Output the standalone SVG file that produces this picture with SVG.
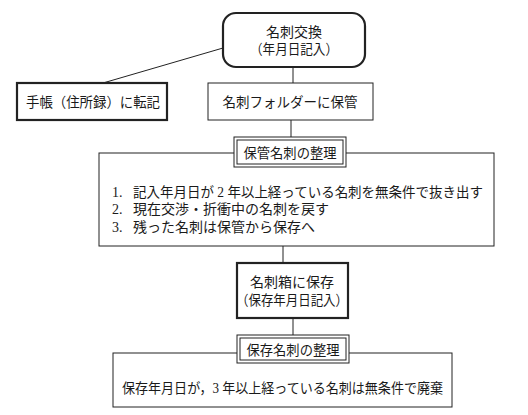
<svg xmlns="http://www.w3.org/2000/svg" width="528" height="415" viewBox="0 0 528 415">
<style>
text{font-family:"Liberation Serif","Noto Sans CJK JP","Noto Sans CJK SC",serif;font-size:14px;fill:#1a1a1a}
.c{text-anchor:middle}
.thin{fill:#fff;stroke:#222;stroke-width:1}
.thick{fill:#fff;stroke:#222;stroke-width:2.2}
.ln{stroke:#222;stroke-width:1;fill:none}
</style>
<rect width="528" height="415" fill="#fff"/>
<g id="connectors">
<line class="ln" x1="103" y1="83" x2="223" y2="48"/>
<line class="ln" x1="293" y1="67" x2="293" y2="84"/>
<line class="ln" x1="291" y1="120" x2="291" y2="138"/>
<line class="ln" x1="283" y1="246" x2="283" y2="263"/>
<line class="ln" x1="293" y1="318" x2="293" y2="335"/>
</g>
<g id="n1">
<rect class="thick" x="223" y="13" width="142" height="54" rx="13"/>
<text class="c"><tspan x="294" y="37">名刺交換</tspan><tspan x="294" y="54" textLength="88" lengthAdjust="spacingAndGlyphs">（年月日記入）</tspan></text>
</g>
<g id="n2">
<rect class="thick" x="17" y="83" width="150" height="37"/>
<text class="c" x="93" y="107" textLength="134" lengthAdjust="spacingAndGlyphs">手帳（住所録）に転記</text>
</g>
<g id="n3">
<rect class="thin" x="208" y="83" width="165" height="37"/>
<text class="c" x="290" y="107" textLength="135" lengthAdjust="spacingAndGlyphs">名刺フォルダーに保管</text>
</g>
<g id="n4">
<rect class="thin" x="99" y="153" width="395" height="93"/>
<text><tspan x="112" y="197">1.</tspan><tspan x="133" y="197" textLength="350" lengthAdjust="spacingAndGlyphs">記入年月日が 2 年以上経っている名刺を無条件で抜き出す</tspan><tspan x="112" y="214">2.</tspan><tspan x="133" y="214">現在交渉・折衝中の名刺を戻す</tspan><tspan x="112" y="232">3.</tspan><tspan x="133" y="232">残った名刺は保管から保存へ</tspan></text>
</g>
<g id="n4t">
<rect class="thin" x="234" y="137" width="112" height="30"/>
<rect class="thin" x="237" y="140" width="106" height="24"/>
<text class="c" x="290" y="158" textLength="93" lengthAdjust="spacingAndGlyphs">保管名刺の整理</text>
</g>
<g id="n5">
<rect class="thick" x="237" y="263" width="111" height="55"/>
<text class="c"><tspan x="292" y="287">名刺箱に保存</tspan><tspan x="292" y="305" textLength="112" lengthAdjust="spacingAndGlyphs">（保存年月日記入）</tspan></text>
</g>
<g id="n6">
<rect class="thin" x="113" y="353" width="339" height="54"/>
<text x="122" y="393" textLength="321" lengthAdjust="spacingAndGlyphs">保存年月日が，3 年以上経っている名刺は無条件で廃棄</text>
</g>
<g id="n6t">
<rect class="thin" x="237" y="335" width="112" height="28"/>
<rect class="thin" x="240" y="338" width="106" height="22"/>
<text class="c" x="293" y="355" textLength="93" lengthAdjust="spacingAndGlyphs">保存名刺の整理</text>
</g>
</svg>
